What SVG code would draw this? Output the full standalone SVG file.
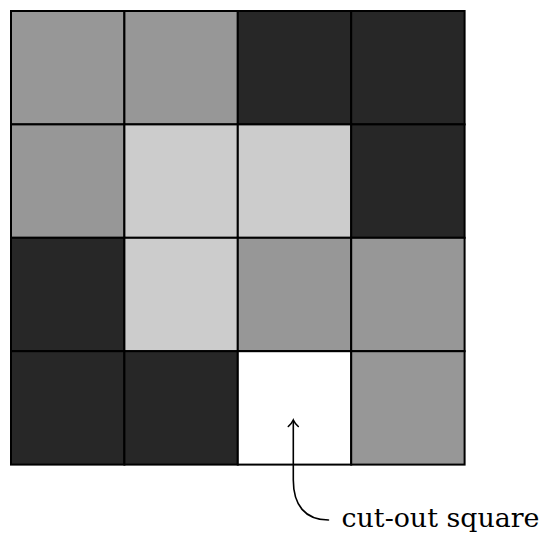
<svg xmlns="http://www.w3.org/2000/svg" width="543" height="533" viewBox="0 0 543 533">
<style>
.c{stroke:#000;stroke-width:2}
.m{fill:#979797}.d{fill:#272727}.l{fill:#cccccc}.w{fill:#ffffff}
.lbl{font-family:"DejaVu Serif",serif;font-size:26px;fill:#000}
</style>
<rect width="543" height="533" fill="#fff"/>
<g id="grid">
<rect class="c m" x="11" y="11" width="113.4" height="113.4"/>
<rect class="c m" x="124.4" y="11" width="113.4" height="113.4"/>
<rect class="c d" x="237.8" y="11" width="113.4" height="113.4"/>
<rect class="c d" x="351.2" y="11" width="113.4" height="113.4"/>
<rect class="c m" x="11" y="124.4" width="113.4" height="113.4"/>
<rect class="c l" x="124.4" y="124.4" width="113.4" height="113.4"/>
<rect class="c l" x="237.8" y="124.4" width="113.4" height="113.4"/>
<rect class="c d" x="351.2" y="124.4" width="113.4" height="113.4"/>
<rect class="c d" x="11" y="237.8" width="113.4" height="113.4"/>
<rect class="c l" x="124.4" y="237.8" width="113.4" height="113.4"/>
<rect class="c m" x="237.8" y="237.8" width="113.4" height="113.4"/>
<rect class="c m" x="351.2" y="237.8" width="113.4" height="113.4"/>
<rect class="c d" x="11" y="351.2" width="113.4" height="113.4"/>
<rect class="c d" x="124.4" y="351.2" width="113.4" height="113.4"/>
<rect id="cutout" class="c w" x="237.8" y="351.2" width="113.4" height="113.4"/>
<rect class="c m" x="351.2" y="351.2" width="113.4" height="113.4"/>
</g>
<g id="connectors" fill="none" stroke="#000" stroke-width="1.6" stroke-linecap="round">
<path d="M328.5,520 C305,520 293.3,505 293.3,480 L293.3,421"/>
<path d="M288.3,426.5 Q292,423 293.3,420 Q294.6,423 298.3,426.5"/>
</g>
<g id="label">
<text class="lbl" x="341.5" y="526.5" textLength="198" lengthAdjust="spacingAndGlyphs">cut-out square</text>
</g>
</svg>
